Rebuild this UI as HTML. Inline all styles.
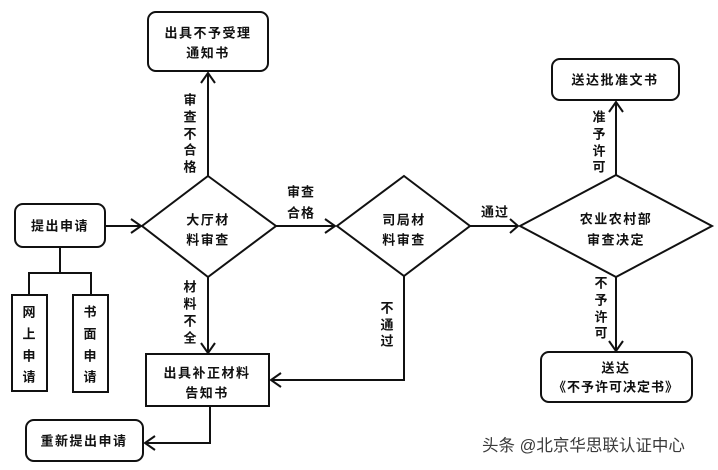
<!DOCTYPE html>
<html><head><meta charset="utf-8">
<style>
html,body{margin:0;padding:0;background:#fff;}
svg{display:block;}
text{font-family:"Liberation Sans","Noto Sans CJK SC",sans-serif;font-size:13px;font-weight:bold;fill:#111;}
.wm{font-size:16.5px;font-weight:normal;fill:#3a3a3a;}
</style></head>
<body>
<svg width="718" height="470" viewBox="0 0 718 470" xmlns="http://www.w3.org/2000/svg">
<g fill="none" stroke="#111" stroke-width="2">
  <!-- boxes -->
  <rect x="148" y="12" width="120" height="59" rx="8"/>
  <rect x="15" y="204" width="90" height="43" rx="8"/>
  <rect x="12" y="295" width="35" height="96"/>
  <rect x="73" y="295" width="35" height="97"/>
  <rect x="146" y="354" width="123" height="52"/>
  <rect x="26" y="420" width="117" height="41" rx="8"/>
  <rect x="552" y="59" width="127" height="41" rx="8"/>
  <rect x="541" y="352" width="151" height="50" rx="8"/>
  <!-- diamonds -->
  <polygon points="208,176 276,226 208,277 142,226"/>
  <polygon points="404,176 470,226 404,276 337,226"/>
  <polygon points="616,175 712,226 616,277 520,226"/>
  <!-- connectors -->
  <line x1="208" y1="176" x2="208" y2="73"/>
  <polyline points="201,83 208,73 215,83"/>
  <line x1="105" y1="226" x2="141" y2="226"/>
  <polyline points="131,219 141,226 131,233"/>
  <polyline points="60,247 60,273"/>
  <polyline points="29,295 29,273 91,273 91,295"/>
  <line x1="208" y1="277" x2="208" y2="353"/>
  <polyline points="201,343 208,353 215,343"/>
  <line x1="276" y1="226" x2="335" y2="226"/>
  <polyline points="325,219 335,226 325,233"/>
  <polyline points="404,276 404,380 271,380"/>
  <polyline points="281,373 271,380 281,387"/>
  <polyline points="210,406 210,443 145,443"/>
  <polyline points="155,436 145,443 155,450"/>
  <line x1="470" y1="226" x2="518" y2="226"/>
  <polyline points="510,219 518,226 510,233"/>
  <line x1="616" y1="175" x2="616" y2="102"/>
  <polyline points="609,112 616,102 623,112"/>
  <line x1="616" y1="277" x2="616" y2="351"/>
  <polyline points="609,341 616,351 623,341"/>
</g>
<g text-anchor="middle" dominant-baseline="central">
  <text x="208" y="33" letter-spacing="1.5">出具不予受理</text>
  <text x="208" y="53" letter-spacing="1.5">通知书</text>
  <text x="60" y="226" letter-spacing="1.5">提出申请</text>
  <text x="29" y="312">网</text><text x="29" y="334">上</text><text x="29" y="356">申</text><text x="29" y="377">请</text>
  <text x="90" y="312">书</text><text x="90" y="334">面</text><text x="90" y="356">申</text><text x="90" y="377">请</text>
  <text x="207" y="373" letter-spacing="1.5">出具补正材料</text>
  <text x="207" y="393" letter-spacing="1.5">告知书</text>
  <text x="84" y="441" letter-spacing="1.5">重新提出申请</text>
  <text x="615" y="80" letter-spacing="1.5">送达批准文书</text>
  <text x="616" y="368" letter-spacing="1.5">送达</text>
  <text x="616" y="387" letter-spacing="1">《不予许可决定书》</text>
  <text x="208" y="220" letter-spacing="1.5">大厅材</text>
  <text x="208" y="240" letter-spacing="1.5">料审查</text>
  <text x="404" y="220" letter-spacing="1.5">司局材</text>
  <text x="404" y="240" letter-spacing="1.5">料审查</text>
  <text x="616" y="219" letter-spacing="1.5">农业农村部</text>
  <text x="616" y="240" letter-spacing="1.5">审查决定</text>
  <!-- edge labels -->
  <text x="190" y="100">审</text><text x="190" y="117">查</text><text x="190" y="134">不</text><text x="190" y="150">合</text><text x="190" y="167">格</text>
  <text x="301" y="192" letter-spacing="1">审查</text>
  <text x="301" y="213" letter-spacing="1">合格</text>
  <text x="190" y="287">材</text><text x="190" y="304">料</text><text x="190" y="321">不</text><text x="190" y="338">全</text>
  <text x="387" y="308">不</text><text x="387" y="325">通</text><text x="387" y="341">过</text>
  <text x="495" y="212" letter-spacing="1">通过</text>
  <text x="599" y="117">准</text><text x="599" y="134">予</text><text x="599" y="151">许</text><text x="599" y="167">可</text>
  <text x="601" y="283">不</text><text x="601" y="300">予</text><text x="601" y="317">许</text><text x="601" y="333">可</text>
</g>
<text class="wm" x="482" y="451">头条 @北京华思联认证中心</text>
</svg>
</body></html>
